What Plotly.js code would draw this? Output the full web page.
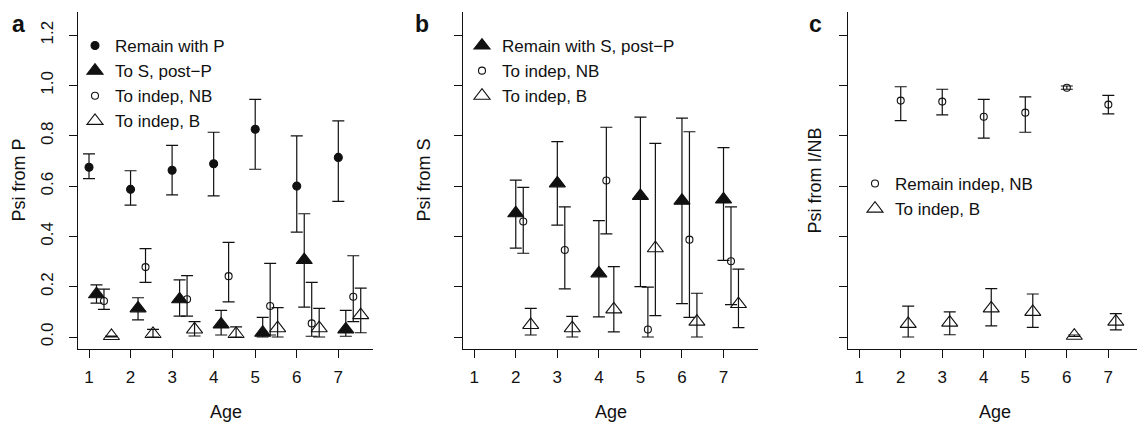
<!DOCTYPE html>
<html>
<head>
<meta charset="utf-8">
<script src="https://cdn.plot.ly/plotly-3.0.1.min.js"></script>
<style>html,body{margin:0;padding:0;background:#fff;}#chart{width:1137px;height:423px;}</style>
</head>
<body>
<div id="chart"></div>
<script>
// ---------- data ----------
var ages = [1, 2, 3, 4, 5, 6, 7];
var agesBC = [2, 3, 4, 5, 6, 7];
var xTickVals = [1, 2, 3, 4, 5, 6, 7];
var xTickText = ["1", "2", "3", "4", "5", "6", "7"];
var yTickVals = [0, 0.2, 0.4, 0.6, 0.8, 1.0, 1.2];
var yTickText = ["0.0", "0.2", "0.4", "0.6", "0.8", "1.0", "1.2"];

// panel a: Psi from P
var aRemainP    = [0.675, 0.587, 0.663, 0.689, 0.826, 0.600, 0.714];
var aRemainPHi  = [0.728, 0.661, 0.762, 0.814, 0.945, 0.800, 0.859];
var aRemainPLo  = [0.630, 0.524, 0.565, 0.561, 0.667, 0.417, 0.539];
var aToS        = [0.170, 0.114, 0.150, 0.050, 0.017, 0.306, 0.030];
var aToSHi      = [0.207, 0.156, 0.227, 0.106, 0.078, 0.490, 0.106];
var aToSLo      = [0.135, 0.068, 0.083, 0.008, 0.000, 0.119, 0.003];
var aToNB       = [0.143, 0.278, 0.150, 0.242, 0.123, 0.054, 0.160];
var aToNBHi     = [0.190, 0.351, 0.244, 0.376, 0.293, 0.217, 0.323];
var aToNBLo     = [0.110, 0.217, 0.083, 0.140, 0.008, 0.003, 0.061];
var aToB        = [0.004, 0.012, 0.030, 0.012, 0.035, 0.035, 0.087];
var aToBHi      = [0.004, 0.030, 0.061, 0.040, 0.117, 0.114, 0.194];
var aToBLo      = [0.000, 0.000, 0.004, 0.000, 0.000, 0.000, 0.017];

// panel b: Psi from S
var bRemainS    = [0.492, 0.611, 0.253, 0.561, 0.542, 0.547];
var bRemainSHi  = [0.624, 0.777, 0.463, 0.874, 0.870, 0.753];
var bRemainSLo  = [0.353, 0.445, 0.080, 0.200, 0.133, 0.305];
var bToNB       = [0.459, 0.346, 0.622, 0.030, 0.387, 0.301];
var bToNBHi     = [0.595, 0.517, 0.834, 0.198, 0.816, 0.517];
var bToNBLo     = [0.333, 0.191, 0.410, 0.000, 0.078, 0.129];
var bToB        = [0.048, 0.035, 0.110, 0.353, 0.061, 0.131];
var bToBHi      = [0.114, 0.082, 0.280, 0.770, 0.174, 0.270];
var bToBLo      = [0.008, 0.000, 0.020, 0.085, 0.000, 0.037];

// panel c: Psi from I/NB
var cRemainNB   = [0.940, 0.936, 0.876, 0.892, 0.991, 0.924];
var cRemainNBHi = [0.995, 0.985, 0.945, 0.955, 0.998, 0.961];
var cRemainNBLo = [0.860, 0.883, 0.791, 0.814, 0.985, 0.887];
var cToB        = [0.052, 0.057, 0.114, 0.100, 0.005, 0.061];
var cToBHi      = [0.123, 0.100, 0.192, 0.171, 0.008, 0.093];
var cToBLo      = [0.000, 0.009, 0.044, 0.038, 0.002, 0.028];

// ---------- helpers ----------
var W = 1137, H = 423;
var FONT = "Liberation Sans, Arial, Helvetica, sans-serif";
var INK = "#111111";
function shift(xs, d) { return xs.map(function (v) { return v + d; }); }
function diff(a, b) { return a.map(function (v, i) { return Math.max(0, v - b[i]); }); }

function series(name, xs, ys, hi, lo, symbol, size, xa, ya, leg) {
  return {
    type: "scatter", mode: "markers", name: name,
    x: xs, y: ys, xaxis: xa, yaxis: ya, legend: leg,
    marker: { symbol: symbol, size: size, color: INK, line: { color: INK, width: 1.1 } },
    error_y: { type: "data", symmetric: false, array: diff(hi, ys), arrayminus: diff(ys, lo),
               color: INK, thickness: 1.2, width: 6 },
    cliponaxis: false
  };
}

var traces = [
  series("Remain with P", shift(ages, 0), aRemainP, aRemainPHi, aRemainPLo, "circle", 8, "x", "y", "legend"),
  series("To S, post\u2212P", shift(ages, 0.18), aToS, aToSHi, aToSLo, "triangle-up", 14, "x", "y", "legend"),
  series("To indep, NB", shift(ages, 0.36), aToNB, aToNBHi, aToNBLo, "circle-open", 7, "x", "y", "legend"),
  series("To indep, B", shift(ages, 0.54), aToB, aToBHi, aToBLo, "triangle-up-open", 14, "x", "y", "legend"),

  series("Remain with S, post\u2212P", shift(agesBC, 0), bRemainS, bRemainSHi, bRemainSLo, "triangle-up", 14, "x2", "y2", "legend2"),
  series("To indep, NB", shift(agesBC, 0.18), bToNB, bToNBHi, bToNBLo, "circle-open", 7, "x2", "y2", "legend2"),
  series("To indep, B", shift(agesBC, 0.36), bToB, bToBHi, bToBLo, "triangle-up-open", 14, "x2", "y2", "legend2"),

  series("Remain indep, NB", shift(agesBC, 0), cRemainNB, cRemainNBHi, cRemainNBLo, "circle-open", 7, "x3", "y3", "legend3"),
  series("To indep, B", shift(agesBC, 0.18), cToB, cToBHi, cToBLo, "triangle-up-open", 14, "x3", "y3", "legend3")
];

function px(x) { return x / W; }
function py(y) { return 1 - y / H; }

var yDom = [py(349), py(12)];
var yRange = [-0.0477, 1.2922];

function xAxis(dom, range) {
  return {
    domain: dom, range: range, tickvals: xTickVals, ticktext: xTickText,
    ticks: "outside", ticklen: 8, tickwidth: 1, tickcolor: INK,
    showline: true, linecolor: INK, linewidth: 1, showgrid: false, zeroline: false,
    ticklabelstandoff: 5, tickfont: { family: FONT, size: 17, color: INK }, fixedrange: true
  };
}
function yAxis(anchor, labels) {
  return {
    domain: yDom, range: yRange, anchor: anchor, tickvals: yTickVals, ticktext: yTickText,
    showticklabels: labels, tickangle: -90,
    ticks: "outside", ticklen: 8, tickwidth: 1, tickcolor: INK,
    showline: true, linecolor: INK, linewidth: 1, showgrid: false, zeroline: false,
    ticklabelstandoff: 9, tickfont: { family: FONT, size: 17, color: INK }, fixedrange: true
  };
}
function legendAt(xp, yp) {
  return {
    x: px(xp), y: py(yp), xanchor: "left", yanchor: "top", xref: "paper", yref: "paper",
    bgcolor: "rgba(0,0,0,0)", borderwidth: 0, tracegroupgap: 0, itemwidth: 30,
    font: { family: FONT, size: 17, color: INK }
  };
}
function ann(text, xp, yp, opts) {
  var a = { text: text, x: px(xp), y: py(yp), xref: "paper", yref: "paper",
            xanchor: "center", yanchor: "middle", showarrow: false,
            font: { family: FONT, size: 18, color: INK } };
  for (var k in opts) a[k] = opts[k];
  return a;
}

var layout = {
  width: W, height: H,
  margin: { l: 0, r: 0, t: 0, b: 0 },
  paper_bgcolor: "#ffffff", plot_bgcolor: "#ffffff",
  font: { family: FONT, color: INK },
  showlegend: true,
  xaxis: xAxis([px(78), px(373)], [0.735, 7.835]),
  xaxis2: xAxis([px(463), px(758)], [0.73, 7.83]),
  xaxis3: xAxis([px(848), 1], [0.73, 7.69]),
  yaxis: yAxis("x", true),
  yaxis2: yAxis("x2", false),
  yaxis3: yAxis("x3", false),
  legend: legendAt(75, 28),
  legend2: legendAt(462, 28),
  legend3: legendAt(855, 166),
  annotations: [
    ann("<b>a</b>", 18, 24, { font: { family: FONT, size: 23, color: INK } }),
    ann("<b>b</b>", 422, 24, { font: { family: FONT, size: 23, color: INK } }),
    ann("<b>c</b>", 815, 24, { font: { family: FONT, size: 23, color: INK } }),
    ann("Psi from P", 18, 180.5, { textangle: -90 }),
    ann("Psi from S", 423, 180.5, { textangle: -90 }),
    ann("Psi from I/NB", 814, 180.5, { textangle: -90 }),
    ann("Age", 226, 411.5, {}),
    ann("Age", 611, 411.5, {}),
    ann("Age", 995, 411.5, {})
  ]
};

Plotly.newPlot("chart", traces, layout, { staticPlot: true, displayModeBar: false });
</script>
</body>
</html>
